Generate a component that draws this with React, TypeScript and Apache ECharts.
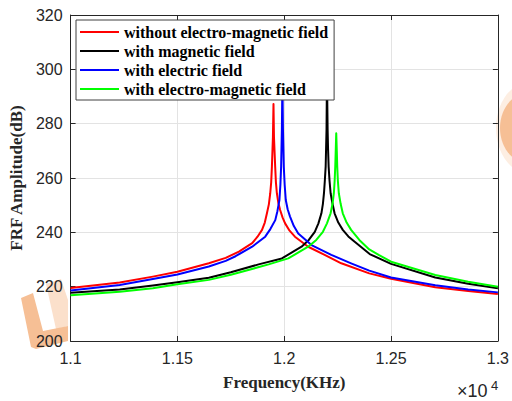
import React, { useEffect, useRef } from "react";
import * as echarts from "echarts";

// Frequency values are in units of 1e4 Hz (axis shows ×10^4)
const seriesNames = [
  "without electro-magnetic field",
  "with magnetic field",
  "with electric field",
  "with electro-magnetic field",
];

const redFreq = [1.1, 1.123, 1.1385, 1.15, 1.1647, 1.1726, 1.1788, 1.185, 1.1875, 1.1896, 1.1909, 1.1919, 1.1928, 1.19345, 1.1939, 1.19423, 1.1947, 1.19497, 1.1952, 1.19576, 1.1961, 1.19655, 1.1972, 1.19808, 1.1992, 1.2004, 1.2025, 1.205, 1.2112, 1.2189, 1.2267, 1.2398, 1.25, 1.2707, 1.2861, 1.3];
const redAmp = [219.5, 221.5, 223.7, 225.5, 228.6, 230.6, 232.9, 236.0, 238.4, 240.9, 243.6, 247.0, 250.3, 254.4, 258.5, 264.2, 275, 287.2, 275, 264.2, 258.5, 254.4, 251.0, 248.2, 245.5, 243.3, 240.6, 238.4, 234.7, 231.7, 228.6, 224.9, 222.9, 219.8, 218.4, 217.3];

const blackFreq = [1.1, 1.123, 1.1385, 1.15, 1.1647, 1.175, 1.188, 1.1989, 1.2081, 1.2115, 1.2143, 1.216, 1.2174, 1.2181, 1.2186, 1.219, 1.21939, 1.2198, 1.22, 1.2203, 1.2205, 1.22078, 1.2212, 1.22171, 1.2226, 1.22356, 1.2253, 1.2274, 1.23, 1.23283, 1.24, 1.25, 1.2707, 1.2861, 1.3];
const blackAmp = [217.8, 219.0, 220.4, 221.6, 223.3, 225.3, 228.2, 230.4, 234.7, 237.2, 240.2, 243.3, 247.0, 250.5, 254.4, 259.0, 264.2, 278, 298, 278, 271, 264.2, 259.0, 254.4, 250.5, 247.0, 243.6, 240.9, 238.5, 236.6, 232.0, 228.4, 223.4, 221.1, 219.4];

const blueFreq = [1.1, 1.123, 1.1385, 1.15, 1.1647, 1.1726, 1.1772, 1.185, 1.1911, 1.1935, 1.1958, 1.1968, 1.19775, 1.1982, 1.19854, 1.1989, 1.19914, 1.1994, 1.1996, 1.19979, 1.2002, 1.20072, 1.2016, 1.20271, 1.2045, 1.20656, 1.21276, 1.22203, 1.2313, 1.2398, 1.25, 1.2707, 1.2861, 1.3];
const blueAmp = [218.6, 220.6, 222.8, 224.5, 227.4, 229.5, 231.2, 234.7, 238.4, 241.2, 244.5, 247.8, 251.9, 257.5, 264.2, 278, 296, 278, 271, 264.2, 257.5, 251.9, 248.5, 245.8, 242.3, 239.6, 235.3, 231.7, 228.6, 225.9, 223.4, 220.5, 219.0, 217.9];

const greenFreq = [1.1, 1.123, 1.1385, 1.15, 1.1647, 1.175, 1.1927, 1.2019, 1.2112, 1.215, 1.2181, 1.22, 1.2217, 1.2226, 1.22323, 1.2236, 1.22388, 1.2241, 1.22434, 1.2246, 1.22481, 1.2251, 1.22555, 1.2264, 1.2274, 1.2292, 1.2313, 1.23514, 1.2398, 1.2444, 1.25, 1.2707, 1.2861, 1.3];
const greenAmp = [216.8, 218.1, 219.4, 220.9, 222.5, 224.4, 228.2, 230.4, 234.7, 237.2, 240.2, 243.3, 247.0, 250.5, 254.4, 259.0, 264.2, 270, 276.5, 270, 264.2, 259.0, 254.4, 250.5, 247.0, 243.6, 240.9, 237.2, 233.7, 231.6, 229.2, 224.3, 221.8, 220.0];

const seriesColors = ["#ff0000", "#000000", "#0000ff", "#00ff00"];

const zip = (xs: number[], ys: number[]) => xs.map((x, i) => [x, ys[i]]);

const SERIF = '"Liberation Serif", "Times New Roman", serif';
const SANS = '"Liberation Sans", Arial, Helvetica, sans-serif';
const AXIS = "#262626";

export default function App() {
  const ref = useRef<HTMLDivElement>(null);
  useEffect(() => {
    if (!ref.current) return;
    const chart = echarts.init(ref.current, undefined, { renderer: "svg" });
    const datasets = [
      zip(redFreq, redAmp),
      zip(blackFreq, blackAmp),
      zip(blueFreq, blueAmp),
      zip(greenFreq, greenAmp),
    ];
    const fmtX = (v: number) => String(parseFloat(v.toFixed(2)));
    const option: any = {
      animation: false,
      backgroundColor: "#ffffff",
      grid: { left: 69, right: 12, top: 15, bottom: 60, containLabel: false },
      legend: {
        orient: "vertical",
        left: 76,
        top: 20,
        padding: [4, 6, 3, 4],
        itemGap: 3,
        itemWidth: 39,
        itemHeight: 2,
        icon: "rect",
        backgroundColor: "#ffffff",
        borderColor: "#404040",
        borderWidth: 1,
        borderRadius: 0,
        textStyle: {
          fontFamily: SERIF,
          fontWeight: "bold",
          fontSize: 16,
          lineHeight: 16,
          color: "#000000",
        },
        data: seriesNames,
      },
      xAxis: [
        {
          type: "value",
          min: 1.1,
          max: 1.3,
          interval: 0.05,
          position: "bottom",
          name: "Frequency(KHz)",
          nameLocation: "middle",
          nameGap: 33,
          nameTextStyle: { fontFamily: SERIF, fontWeight: "bold", fontSize: 17, color: "#262626" },
          axisLine: { show: true, onZero: false, lineStyle: { color: AXIS, width: 1 } },
          axisTick: { show: true, inside: true, length: 5, lineStyle: { color: AXIS } },
          axisLabel: { fontFamily: SANS, fontSize: 16, color: AXIS, margin: 9, formatter: fmtX },
          splitLine: { show: true, lineStyle: { color: "#e3e3e3", width: 1 } },
        },
        {
          type: "value",
          min: 1.1,
          max: 1.3,
          interval: 0.05,
          position: "top",
          axisLine: { show: true, onZero: false, lineStyle: { color: AXIS, width: 1 } },
          axisTick: { show: true, inside: true, length: 5, lineStyle: { color: AXIS } },
          axisLabel: { show: false },
          splitLine: { show: false },
        },
      ],
      yAxis: [
        {
          type: "value",
          min: 200,
          max: 320,
          interval: 20,
          position: "left",
          name: "FRF Amplitude(dB)",
          nameLocation: "middle",
          nameGap: 43,
          nameTextStyle: { fontFamily: SERIF, fontWeight: "bold", fontSize: 17, color: "#262626" },
          axisLine: { show: true, onZero: false, lineStyle: { color: AXIS, width: 1 } },
          axisTick: { show: true, inside: true, length: 5, lineStyle: { color: AXIS } },
          axisLabel: { fontFamily: SANS, fontSize: 16, color: AXIS, margin: 8 },
          splitLine: { show: true, lineStyle: { color: "#e3e3e3", width: 1 } },
        },
        {
          type: "value",
          min: 200,
          max: 320,
          interval: 20,
          position: "right",
          axisLine: { show: true, onZero: false, lineStyle: { color: AXIS, width: 1 } },
          axisTick: { show: true, inside: true, length: 5, lineStyle: { color: AXIS } },
          axisLabel: { show: false },
          splitLine: { show: false },
        },
      ],
      series: seriesNames.map((name, i) => ({
        name,
        type: "line",
        xAxisIndex: 0,
        yAxisIndex: 0,
        data: datasets[i],
        symbol: "none",
        showSymbol: false,
        smooth: false,
        lineStyle: { color: seriesColors[i], width: 2, join: "round" },
        itemStyle: { color: seriesColors[i] },
        z: 2,
      })),
      graphic: [
        {
          type: "ellipse",
          shape: { cx: 530, cy: 128, rx: 34, ry: 46 },
          style: { fill: "#fdeee2" },
          z: -1,
        },
        {
          type: "ellipse",
          shape: { cx: 528, cy: 128, rx: 28, ry: 35 },
          style: { fill: "#f6bf95" },
          z: -1,
        },
        {
          type: "polygon",
          shape: { points: [[46, 284], [61, 279], [68, 300], [68, 326], [56, 329]] },
          style: { fill: "#fbe0cb" },
          z: -1,
        },
        {
          type: "polygon",
          shape: {
            points: [[21, 298], [33, 293], [43, 331], [68, 326], [68, 341], [36, 349], [31, 347]],
          },
          style: { fill: "#f6bf95" },
          z: -1,
        },
        {
          type: "text",
          x: 457,
          y: 382,
          style: { text: "×10", fontFamily: SANS, fontSize: 18, fill: AXIS, verticalAlign: "top" },
        },
        {
          type: "text",
          x: 491,
          y: 379,
          style: { text: "4", fontFamily: SANS, fontSize: 13, fill: AXIS, verticalAlign: "top" },
        },
      ],
    };
    chart.setOption(option);
    return () => chart.dispose();
  }, []);
  return <div ref={ref} style={{ width: 512, height: 401, position: "absolute", left: 0, top: 0 }} />;
}
